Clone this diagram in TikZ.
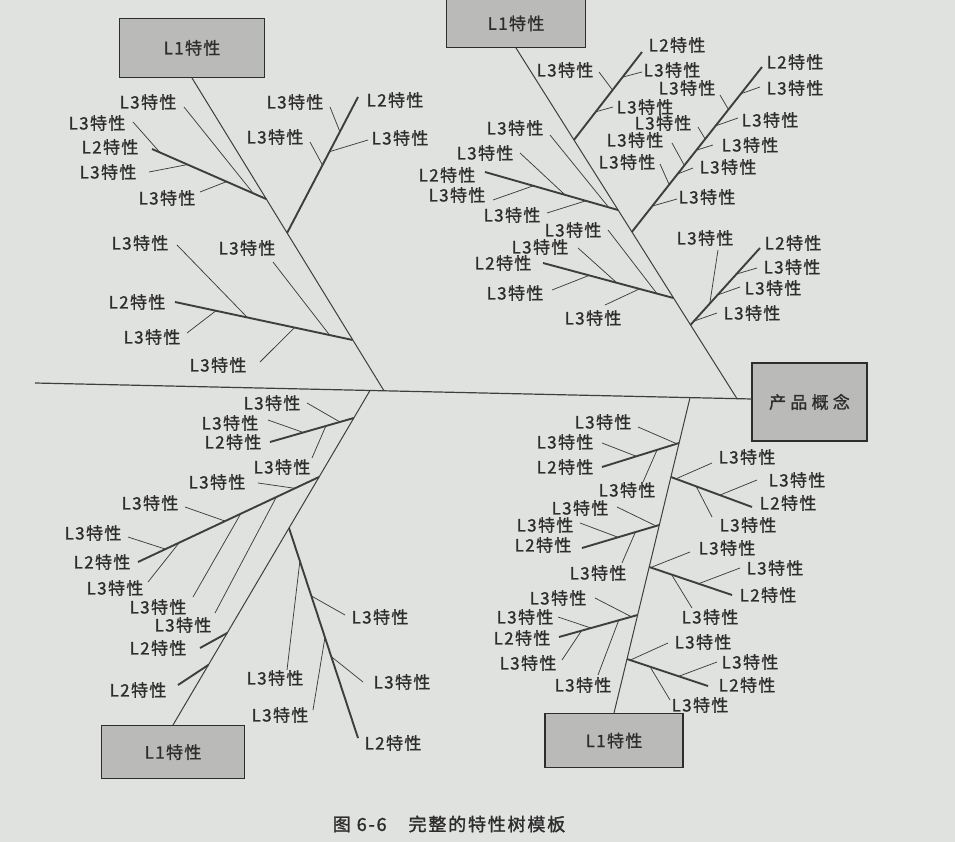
\documentclass[tikz,border=0pt]{standalone}
\usepackage{fontspec}
\newfontfamily\cjk[LetterSpace=8,FakeBold=1.2]{Noto Sans CJK SC}
\newfontfamily\cjkwide[LetterSpace=25,FakeBold=1.2]{Noto Sans CJK SC}
\newfontfamily\capfont[LetterSpace=10,FakeBold=1.5]{Noto Sans CJK SC}
\definecolor{bg}{RGB}{224,226,223}
\definecolor{ink}{RGB}{45,45,45}
\definecolor{ln}{RGB}{62,62,62}
\definecolor{boxfill}{RGB}{186,187,184}
\begin{document}
\begin{tikzpicture}[x=1pt,y={(0pt,-1pt)},
  lab/.style={font=\cjk\fontsize{17}{19}\selectfont, text=ink, inner sep=0pt},
  lthree/.style={draw=ln, line width=0.75pt},
  ltwo/.style={draw=ln, line width=1.9pt},
  lone/.style={draw=ln, line width=1pt},
  boxnode/.style={draw=ink, line width=1.3pt, fill=boxfill, text=ink,
    font=\cjk\fontsize{17}{19}\selectfont, inner sep=0pt}]
\fill[bg] (0,0) rectangle (955,842);
\useasboundingbox (0,0) rectangle (955,842);

% head and L1 boxes
\node[boxnode, font=\cjkwide\fontsize{17}{19}\selectfont, minimum width=115pt, minimum height=78pt] (head) at (809.5,402) {产品概念};
\node[boxnode, anchor=south, minimum width=145pt, minimum height=59pt] (boxTL) at (192,78) {L1特性};
\node[boxnode, anchor=south, minimum width=139pt, minimum height=48pt] (boxTM) at (516,48) {L1特性};
\node[boxnode, anchor=north, minimum width=143pt, minimum height=53pt] (boxBL) at (173,725) {L1特性};
\node[boxnode, anchor=north, minimum width=138pt, minimum height=54pt] (boxBR) at (614,713) {L1特性};

% spine
\coordinate (spW) at (35,383);
\coordinate (spE) at (752,399);
\draw[line width=1.2pt, draw=ln] (spW) -- (spE);

% L1 bones
\coordinate (T1b) at (384,390.8);
\coordinate (T2b) at (737,398.7);
\coordinate (B1a) at (370,390.5);
\coordinate (B2a) at (690,397.7);
\draw[lone] (boxTL.south) -- (T1b);
\draw[lone] (boxTM.south) -- (T2b);
\draw[lone] (B1a) -- (boxBL.north);
\draw[lone] (B2a) -- (boxBR.north);

% L2 definitions: name / attach / free end / label
\foreach \n/\ax/\ay/\fx/\fy/\lx/\ly in {
  tla/266.2/199/152/149/110/147,
  tlb/287.1/233/358/97/395/100,
  tlc/352.7/340/175/302/137/302,
  tma/573.9/140/642/52/677/45,
  tmb/631.8/232/762/67/795/62,
  tmc/618/210/485/172/447/175,
  tmd/673.4/298/543/263/503/263,
  tme/690.4/325/760/248/793/243,
  bla/353.8/418/270/442/233/442,
  blb/319/477/138/562/102/562,
  blc/227.2/633/200/648/158/648,
  bld/208.3/665/178/685/138/690,
  ble/289/528/358/738/393/743,
  bra/679.1/443/602/467/565/467,
  brb/670.9/477/752/507/788/503,
  brc/659.3/525/582/548/543/545,
  brd/649.2/567/732/595/768/595,
  bre/637.6/615/559/637/522/638,
  brf/627/659/708/686/747/685}{
  \coordinate (\n A) at (\ax,\ay);
  \coordinate (\n F) at (\fx,\fy);
  \node[lab] (\n L) at (\lx,\ly) {L2特性};
}

% L3 branches: label / start / direction point / parent L2
\foreach \lx/\ly/\sx/\sy/\ex/\ey/\p [count=\i] in {
  148/102/184/107/253/193/tla,
  97/123/133/122/156/148/tla,
  108/172/149/172/180/166/tla,
  167/198/200/192/223/183/tla,
  295/102/330/107/340/132/tlb,
  275/137/310/142/323/166/tlb,
  400/138/368/140/335/150/tlb,
  140/243/177/245/243/313/tlc,
  247/248/273/262/328/333/tlc,
  152/337/187/333/213/313/tlc,
  218/365/260/362/292/330/tlc,
  565/70/599/72/611/88/tma,
  672/70/642/72/623/77/tma,
  645/107/613/107/595/112/tma,
  687/88/720/95/727/107/tmb,
  795/88/760/87/743/93/tmb,
  770/120/738/118/718/125/tmb,
  663/123/698/127/704/137/tmb,
  750/145/713/145/697/150/tmb,
  635/140/672/143/683/163/tmb,
  728/167/693/168/680/173/tmb,
  627/162/660/164/668/182/tmb,
  707/197/677/199/663/203/tmb,
  515/128/550/135/610/209/tmc,
  485/153/520/153/563/193/tmc,
  457/195/493/200/527/188/tmc,
  512/215/547/213/582/202/tmc,
  573/230/608/230/658/295/tmd,
  540/247/578/248/617/283/tmd,
  515/293/552/290/585/277/tmd,
  593/318/605/305/637/290/tmd,
  705/238/718/250/710/302/tme,
  792/267/757/268/740/273/tme,
  773/288/740/287/723/293/tme,
  752/313/717/313/697/320/tme,
  272/403/307/403/340/422/bla,
  230/423/268/420/302/432/bla,
  282/467/312/458/325/428/bla,
  217/482/258/483/293/488/blb,
  150/503/185/507/222/520/blb,
  93/533/128/537/162/548/blb,
  115/588/148/582/175/548/blb,
  158/607/193/597/240/515/blb,
  183/625/215/613/280/490/blb,
  380/617/345/615/315/598/ble,
  275/678/287/670/300/560/ble,
  402/682/363/682/333/658/ble,
  280/715/313/710/325/637/ble,
  603/422/638/427/675/443/bra,
  565/442/602/443/633/455/bra,
  627/490/643/482/657/450/bra,
  747/457/712/463/680/477/brb,
  797/480/757/480/725/493/brb,
  748/525/712/517/697/488/brb,
  580/508/617/507/650/523/brc,
  545/525/580/523/612/535/brc,
  598/573/622/563/635/533/brc,
  727/548/690/552/657/565/brd,
  775/568/740/568/703/582/brd,
  710/617/692/608/673/577/brd,
  558/598/595/598/628/615/bre,
  525/617/558/617/588/627/bre,
  528/663/562/660/580/633/bre,
  583/685/598/675/618/622/bre,
  703/642/668/643/637/657/brf,
  750/662/717/662/682/675/brf,
  700/705/670/700/652/670/brf}{
  \node[lab] (t\i) at (\lx,\ly) {L3特性};
  \coordinate (s\i) at (\sx,\sy);
  \coordinate (e\i) at (\ex,\ey);
  \coordinate (x\i) at (intersection cs: first line={(s\i)--(e\i)}, second line={(\p A)--(\p F)});
  \draw[lthree] (s\i) -- (x\i);
}

% L2 thick lines on top
\foreach \n in {tla,tlb,tlc,tma,tmb,tmc,tmd,tme,bla,blb,blc,bld,ble,bra,brb,brc,brd,bre,brf}{
  \draw[ltwo] (\n A) -- (\n F);
}

% caption
\node[font=\capfont\fontsize{18}{20}\selectfont, text=ink, inner sep=0pt] (cap) at (449,824) {图\hspace{6pt}6-6\hspace{22pt}完整的特性树模板};
\end{tikzpicture}
\end{document}
